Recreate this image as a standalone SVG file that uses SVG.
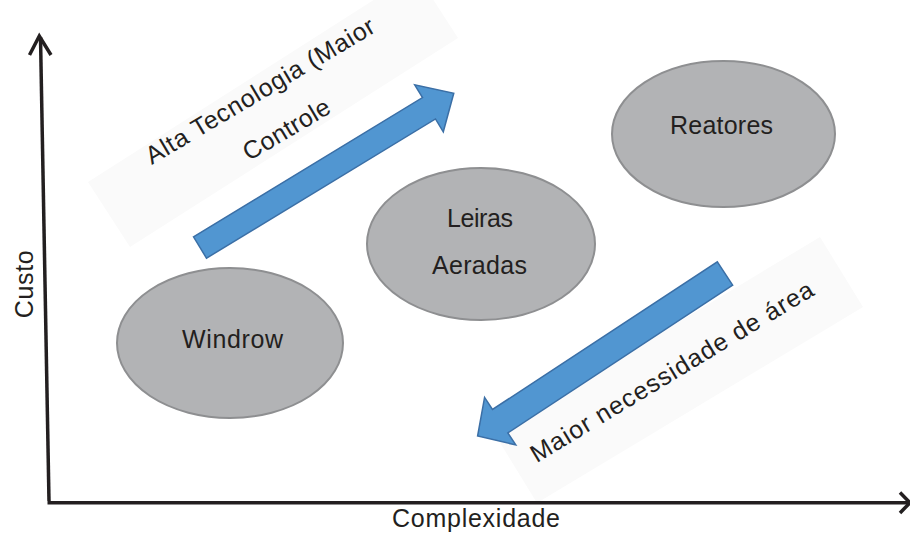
<svg xmlns="http://www.w3.org/2000/svg" width="910" height="533" viewBox="0 0 910 533">
  <style>
    .lbl { font-family: "Liberation Sans", Arial, sans-serif; font-size: 25px; fill: #231f20; }
    .node ellipse { fill: #b2b3b5; stroke: #8e8f91; stroke-width: 2; }
    .band { fill: #fafafa; }
    .flow { fill: #5196d1; stroke: #3b6fa6; stroke-width: 1.5; stroke-linejoin: miter; }
    .axis { fill: none; stroke: #231f20; stroke-width: 3.5; stroke-linecap: butt; }
    .tip { fill: none; stroke: #231f20; stroke-width: 3.5; stroke-linejoin: miter; }
  </style>

  <rect width="910" height="533" fill="#ffffff"/>

  <!-- pale label bands behind the slanted captions -->
  <g id="bands">
    <polygon class="band" points="88,182 130,247 458,38 416,-27"/>
    <polygon class="band" points="494,433 537,503 863,307 820,237"/>
  </g>

  <!-- process nodes -->
  <g id="node-windrow" class="node">
    <ellipse cx="230" cy="343" rx="113" ry="75"/>
    <text class="lbl" x="182" y="348" textLength="101">Windrow</text>
  </g>
  <g id="node-leiras" class="node">
    <ellipse cx="481" cy="244" rx="114" ry="76"/>
    <text class="lbl" x="447" y="227" textLength="66">Leiras</text>
    <text class="lbl" x="432" y="274" textLength="95">Aeradas</text>
  </g>
  <g id="node-reatores" class="node">
    <ellipse cx="723.5" cy="134" rx="111.5" ry="73"/>
    <text class="lbl" x="670" y="134" textLength="103">Reatores</text>
  </g>

  <!-- trend arrows -->
  <g id="connectors">
    <path class="flow" transform="translate(200,247.5) rotate(-31.3)"
          d="M0,-12.5 L268,-12.5 L268,-27.5 L297,0 L268,27.5 L268,12.5 L0,12.5 Z"/>
    <path class="flow" transform="translate(725,273.5) rotate(146.7)"
          d="M0,-14 L269,-14 L269,-28.4 L296,0 L269,28.4 L269,14 L0,14 Z"/>
  </g>

  <!-- slanted captions -->
  <g id="caption-tecnologia" transform="translate(151.7,165) rotate(-30.7)">
    <text class="lbl" x="0" y="0" textLength="262">Alta Tecnologia (Maior</text>
    <text class="lbl" x="85.6" y="46.6" textLength="97">Controle</text>
  </g>
  <g id="caption-area" transform="translate(536.7,463.3) rotate(-31.2)">
    <text class="lbl" x="0" y="0" textLength="326">Maior necessidade de área</text>
  </g>

  <!-- axes -->
  <g id="axes">
    <line class="axis" x1="40.5" y1="37" x2="49" y2="501"/>
    <polyline class="tip" points="29.5,55 39.3,36 51,55"/>
    <line class="axis" x1="47.5" y1="502.7" x2="908" y2="502.7"/>
    <polyline class="tip" points="900,492.5 910,502.7 900,512.9"/>
    <text class="lbl" x="392" y="527" textLength="168">Complexidade</text>
    <text class="lbl" transform="translate(33,318.3) rotate(-90)" x="0" y="0" font-size="26" textLength="68">Custo</text>
  </g>
</svg>
